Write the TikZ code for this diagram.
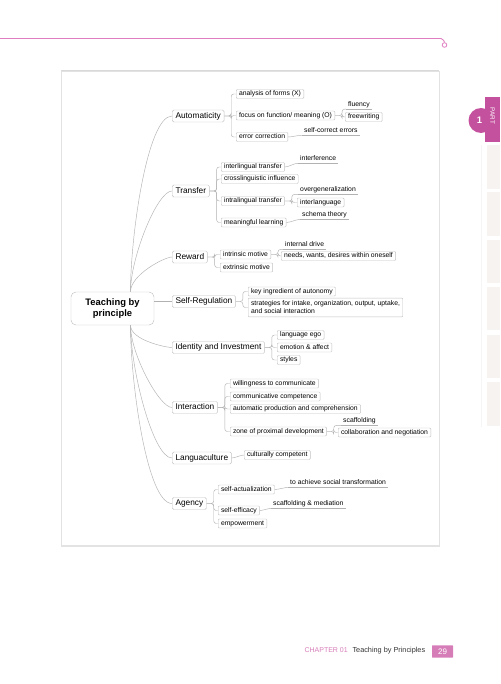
\documentclass[tikz,border=0pt]{standalone}
\usepackage{fontspec}
\setmainfont{Liberation Sans}
\usetikzlibrary{positioning}
\definecolor{pagepink}{HTML}{E07CC0}
\definecolor{tabpink}{HTML}{C4519E}
\definecolor{chappink}{HTML}{D67DB8}
\definecolor{tabgray}{HTML}{F6F3F1}
\definecolor{linegray}{HTML}{B2B2B2}
\definecolor{boxgray}{HTML}{C2C2C2}
\definecolor{framegray}{HTML}{E2E2E2}

\begin{document}
\begin{tikzpicture}[x=1pt,y=1pt,line width=0.45pt,
    branch/.style={draw=linegray,out looseness=0.8,in looseness=0.35},
    fork/.style={draw=linegray,rounded corners=2.5pt,to path={-- ++(7,0) |- (\tikztotarget)}},
    twig/.style={draw=linegray,out=0,in=180,looseness=0.7}]
  \tikzstyle{topic}=[draw=boxgray,fill=white,rounded corners=1.5pt,anchor=west,
    font=\fontsize{8.3}{9}\selectfont,text height=6.2pt,text depth=1.8pt,inner xsep=3.3pt,inner ysep=2pt]
  \tikzstyle{sub}=[draw=boxgray,fill=white,rounded corners=1pt,anchor=west,
    font=\fontsize{6.8}{7.8}\selectfont,text height=5pt,text depth=1.4pt,inner xsep=2.8pt,inner ysep=1.3pt]
  \tikzstyle{leaf}=[anchor=west,font=\fontsize{6.8}{7.8}\selectfont,text height=5pt,text depth=1.4pt,
    inner xsep=2pt,inner ysep=1.5pt,
    append after command={(\tikzlastnode.south west) edge[linegray] (\tikzlastnode.south east)}]
\useasboundingbox (0,0) rectangle (500,-684);
% page decoration
\draw[pagepink,line width=0.9pt,rounded corners=2pt] (0,-38.5) -- (443,-38.5) -- (444.5,-42.5);
\draw[pagepink,line width=0.8pt,fill=white] (444.5,-45) circle (2.3);
\fill[tabpink] (485,-97) rectangle (500,-142);
\fill[tabpink] (481,-120.5) circle (12.5);
\node[text=white,font=\bfseries\fontsize{9.5}{9.5}\selectfont] (partno) at (479.5,-120.5) {1};
\node[text=white,rotate=-90,font=\fontsize{6.3}{6.3}\selectfont] (part) at (492.5,-116) {PART};
\foreach \ytop/\ybot in {145/189,192/236,240/283,287/330,335/378,382/426}
  \fill[tabgray] (487,-\ytop) rectangle (500,-\ybot);
\draw[gray!8] (481,-145) -- (481,-427);
% frame
\draw[framegray,fill=white] (61,-71) rectangle (439,-546);
\draw[gray!30,line width=1.5pt] (61,-70.5) -- (439,-70.5);
\draw[gray!22,line width=1.5pt] (61,-546) -- (439,-546);
% footer
\node[anchor=west,text=chappink,font=\fontsize{7}{7}\selectfont] (chap) at (301,-650.5) {CHAPTER 01};
\node[anchor=west,text=black!80,font=\fontsize{7.3}{7.3}\selectfont] (chaptitle) at (349,-650.5) {Teaching by Principles};
\node[fill=chappink,text=white,minimum width=21pt,minimum height=10pt,rounded corners=0.5pt,
  font=\fontsize{8}{8}\selectfont] (pageno) at (442.5,-651.5) {29};

% root
\node[draw=boxgray,fill=white,rounded corners=5pt,minimum width=83pt,minimum height=33pt,align=center,
  font=\bfseries\fontsize{9.4}{11.5}\selectfont] (root) at (112.5,-308.5) {Teaching by\\principle};
\coordinate (rtop) at ([xshift=18pt]root.north);
\coordinate (rbot) at ([xshift=18pt]root.south);

% main topics
\node[topic] (auto) at (172,-116) {Automaticity};
\node[topic] (transfer) at (172,-191) {Transfer};
\node[topic] (reward) at (172,-257) {Reward};
\node[topic] (selfreg) at (172,-301.5) {Self-Regulation};
\node[topic] (ident) at (172,-347.5) {Identity and Investment};
\node[topic] (interact) at (172,-407.5) {Interaction};
\node[topic] (langua) at (172,-458) {Languaculture};
\node[topic] (agency) at (172,-503.5) {Agency};

% subtopics
\node[sub] (forms) at (236,-94) {analysis of forms (X)};
\node[sub] (focus) at (236,-115.5) {focus on function/ meaning (O)};
\node[sub] (errcorr) at (236,-137) {error correction};
\node[sub] (interling) at (221,-167) {interlingual transfer};
\node[sub] (crossling) at (221,-179) {crosslinguistic influence};
\node[sub] (intraling) at (221,-201) {intralingual transfer};
\node[sub] (meaning) at (221,-222.5) {meaningful learning};
\node[sub] (intrin) at (220,-254.5) {intrinsic motive};
\node[sub] (extrin) at (220,-267.5) {extrinsic motive};
\node[sub] (keying) at (248,-291.5) {key ingredient of autonomy};
\node[sub,align=left,font=\fontsize{6.8}{8.5}\selectfont,text height=13.5pt,text depth=1.4pt,inner ysep=2pt] (strat) at (248,-307.5)
  {strategies for intake, organization, output, uptake,\\and social interaction};
\node[sub] (ego) at (277,-335) {language ego};
\node[sub] (emotion) at (277,-347.5) {emotion \& affect};
\node[sub] (styles) at (277,-360) {styles};
\node[sub] (willing) at (230,-383.5) {willingness to communicate};
\node[sub] (commcomp) at (230,-396.5) {communicative competence};
\node[sub] (autoprod) at (230,-409) {automatic production and comprehension};
\node[sub] (zone) at (230,-431.5) {zone of proximal development};
\node[sub] (cultur) at (244,-455) {culturally competent};
\node[sub] (selfact) at (218,-489.5) {self-actualization};
\node[sub] (selfeff) at (218,-510.5) {self-efficacy};
\node[sub] (empower) at (218,-523.5) {empowerment};

% details
\node[leaf] (fluency) at (346,-104.3) {fluency};
\node[sub] (freewrit) at (345,-117) {freewriting};
\node[leaf] (selfcorr) at (302,-130.3) {self-correct errors};
\node[leaf] (interfer) at (298,-158.3) {interference};
\node[leaf] (overgen) at (298,-189.5) {overgeneralization};
\node[sub] (interlang) at (297,-202.5) {interlanguage};
\node[leaf] (schema) at (300,-214.5) {schema theory};
\node[leaf] (drive) at (283,-244.5) {internal drive};
\node[sub] (needs) at (281,-256) {needs, wants, desires within oneself};
\node[leaf] (scaff) at (341,-420.5) {scaffolding};
\node[sub] (collab) at (338,-432.5) {collaboration and negotiation};
\node[leaf] (social) at (288,-482.5) {to achieve social transformation};
\node[leaf] (scafmed) at (271,-503.5) {scaffolding \& mediation};

\path
(rtop) edge[branch,out=90,in=180] (auto)
(rtop) edge[branch,out=90,in=180] (transfer)
(rtop) edge[branch,out=90,in=180] (reward)
(selfreg -| root.east) edge[draw=linegray] (selfreg)
(rbot) edge[branch,out=-90,in=180] (ident)
(rbot) edge[branch,out=-90,in=180] (interact)
(rbot) edge[branch,out=-90,in=180] (langua)
(rbot) edge[branch,out=-90,in=180] (agency);
\path
(auto.east) edge[fork] (forms)
(auto.east) edge[fork] (focus)
(auto.east) edge[fork] (errcorr)
(transfer.east) edge[fork] (interling)
(transfer.east) edge[fork] (crossling)
(transfer.east) edge[fork] (intraling)
(transfer.east) edge[fork] (meaning)
(reward.east) edge[fork] (intrin)
(reward.east) edge[fork] (extrin)
(selfreg.east) edge[fork] (keying)
(selfreg.east) edge[fork] (strat)
(ident.east) edge[fork] (ego)
(ident.east) edge[fork] (emotion)
(ident.east) edge[fork] (styles)
(interact.east) edge[fork] (willing)
(interact.east) edge[fork] (commcomp)
(interact.east) edge[fork] (autoprod)
(interact.east) edge[fork] (zone)
(langua.east) edge[twig] (cultur)
(agency.east) edge[fork] (selfact)
(agency.east) edge[fork] (selfeff)
(agency.east) edge[fork] (empower);
\path
(focus.east) edge[fork] (fluency.south west)
(focus.east) edge[fork] (freewrit)
(errcorr.east) edge[twig] (selfcorr.south west)
(interling.east) edge[twig] (interfer.south west)
(intraling.east) edge[fork] (overgen.south west)
(intraling.east) edge[fork] (interlang)
(meaning.east) edge[twig] (schema.south west)
(intrin.east) edge[fork] (drive.south west)
(intrin.east) edge[fork] (needs)
(zone.east) edge[fork] (scaff.south west)
(zone.east) edge[fork] (collab)
(selfact.east) edge[twig] (social.south west)
(selfeff.east) edge[twig] (scafmed.south west);
\end{tikzpicture}
\end{document}
